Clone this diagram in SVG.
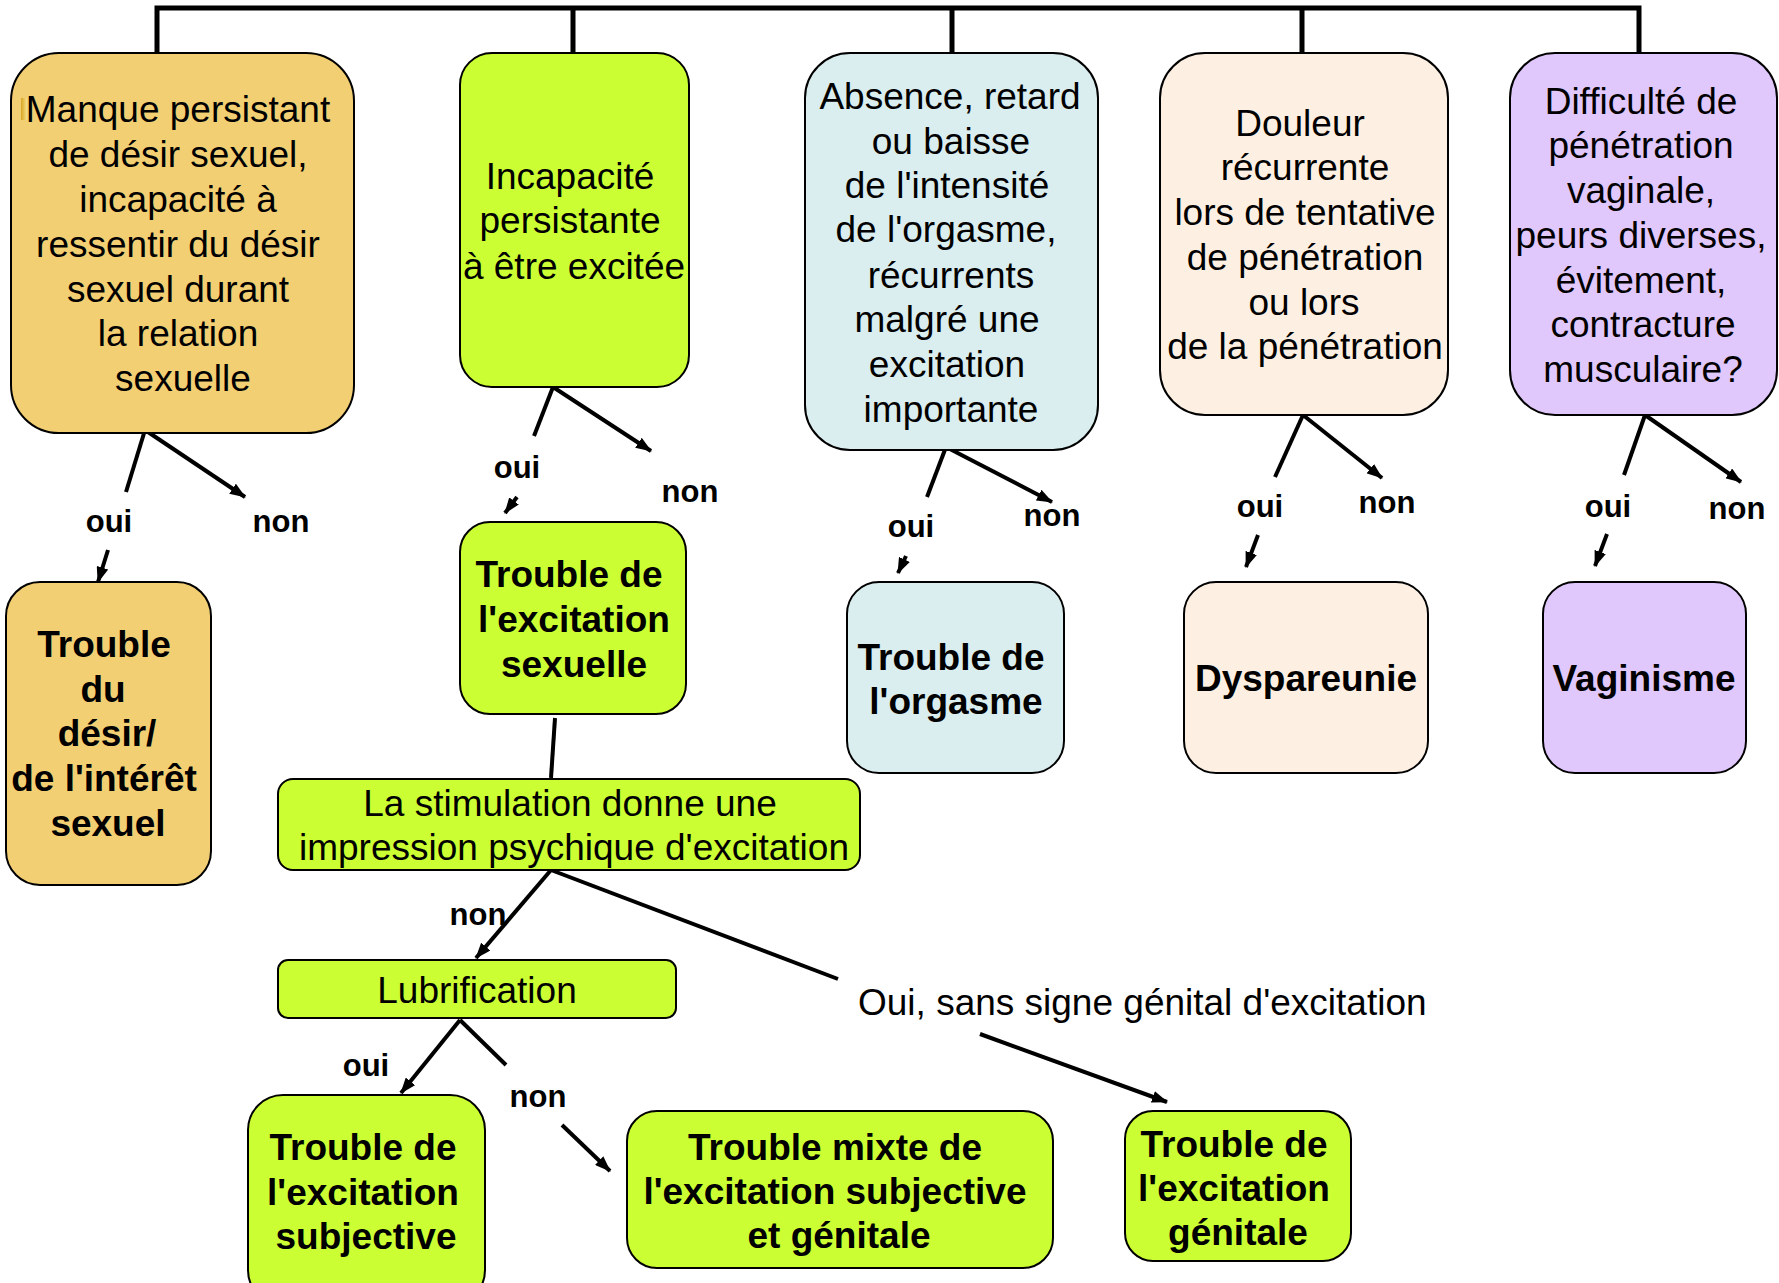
<svg xmlns="http://www.w3.org/2000/svg" width="1779" height="1283" viewBox="0 0 1779 1283">
<style>
.box{stroke:#000;stroke-width:2}
.or{fill:#F3CF73}.gr{fill:#CCFF33}.bl{fill:#DAEDEF}.pe{fill:#FDF0E3}.lv{fill:#E0C7FC}
.t{font-family:"Liberation Sans",Arial,sans-serif;font-size:37px;fill:#000;text-anchor:middle}
.b{font-family:"Liberation Sans",Arial,sans-serif;font-size:37px;font-weight:bold;fill:#000;text-anchor:middle}
.l{font-family:"Liberation Sans",Arial,sans-serif;font-size:31px;font-weight:bold;fill:#000;text-anchor:middle}
.c{stroke:#000;stroke-width:4;fill:none}
.a{stroke:#000;stroke-width:4;fill:none;marker-end:url(#ah)}
</style>
<defs>
<marker id="ah" viewBox="0 0 16 12" refX="15" refY="6" markerWidth="16" markerHeight="12" markerUnits="userSpaceOnUse" orient="auto"><path d="M0,0 L16,6 L0,12 z" fill="#000"/></marker>
<linearGradient id="gold" x1="0" y1="0" x2="1" y2="0"><stop offset="0" stop-color="#D9A521"/><stop offset="1" stop-color="#F7E08A"/></linearGradient>
</defs>

<g id="connectors">
<path class="c" d="M157,55 V8 H1639 V55" style="stroke-width:5"/>
<path class="c" d="M573,8 V55 M952,8 V55 M1302,8 V55" style="stroke-width:5"/>
<path class="c" d="M145,430 L126,492"/>
<path class="a" d="M145,430 L245,497"/>
<path class="a" d="M108,550 L98,582"/>
<path class="c" d="M553,387 L534,436"/>
<path class="a" d="M553,387 L651,451"/>
<path class="a" d="M517,497 L505,513"/>
<path class="c" d="M946,447 L927,497"/>
<path class="a" d="M946,447 L1052,502"/>
<path class="a" d="M906,556 L898,573"/>
<path class="c" d="M1303,415 L1275,477"/>
<path class="a" d="M1303,415 L1382,478"/>
<path class="a" d="M1258,535 L1246,567"/>
<path class="c" d="M1645,415 L1624,475"/>
<path class="a" d="M1645,415 L1741,482"/>
<path class="a" d="M1607,534 L1595,566"/>
<path class="c" d="M555,718 L551,778"/>
<path class="a" d="M551,870 L476,958"/>
<path class="c" d="M551,870 L838,979"/>
<path class="a" d="M980,1034 L1167,1102"/>
<path class="a" d="M460,1020 L401,1093"/>
<path class="c" d="M460,1020 L506,1065"/>
<path class="a" d="M562,1125 L610,1171"/>
</g>

<g id="n1">
<rect class="box or" x="11" y="53" width="343" height="380" rx="48"/>
<rect x="21" y="98" width="6" height="22" fill="url(#gold)"/>
<text class="t" x="178" y="122">Manque persistant</text>
<text class="t" x="178" y="167">de désir sexuel,</text>
<text class="t" x="178" y="212">incapacité à</text>
<text class="t" x="178" y="257">ressentir du désir</text>
<text class="t" x="178" y="302">sexuel durant</text>
<text class="t" x="178" y="346">la relation</text>
<text class="t" x="183" y="391">sexuelle</text>
</g>

<g id="n2">
<rect class="box gr" x="460" y="53" width="229" height="334" rx="32"/>
<text class="t" x="570" y="189">Incapacité</text>
<text class="t" x="570" y="233">persistante</text>
<text class="t" x="574" y="279">à être excitée</text>
</g>

<g id="n3">
<rect class="box bl" x="805" y="53" width="293" height="397" rx="45"/>
<text class="t" x="950" y="109">Absence, retard</text>
<text class="t" x="951" y="154">ou baisse</text>
<text class="t" x="947" y="198">de l'intensité</text>
<text class="t" x="946" y="242">de l'orgasme,</text>
<text class="t" x="951" y="288">récurrents</text>
<text class="t" x="947" y="332">malgré une</text>
<text class="t" x="947" y="377">excitation</text>
<text class="t" x="951" y="422">importante</text>
</g>

<g id="n4">
<rect class="box pe" x="1160" y="53" width="288" height="362" rx="45"/>
<text class="t" x="1300" y="136">Douleur</text>
<text class="t" x="1305" y="180">récurrente</text>
<text class="t" x="1305" y="225">lors de tentative</text>
<text class="t" x="1305" y="270">de pénétration</text>
<text class="t" x="1304" y="315">ou lors</text>
<text class="t" x="1305" y="359">de la pénétration</text>
</g>

<g id="n5">
<rect class="box lv" x="1510" y="53" width="267" height="362" rx="45"/>
<text class="t" x="1641" y="114">Difficulté de</text>
<text class="t" x="1641" y="158">pénétration</text>
<text class="t" x="1641" y="203">vaginale,</text>
<text class="t" x="1641" y="248">peurs diverses,</text>
<text class="t" x="1641" y="293">évitement,</text>
<text class="t" x="1643" y="337">contracture</text>
<text class="t" x="1643" y="382">musculaire?</text>
</g>

<g id="labels">
<text class="l" x="109" y="532">oui</text>
<text class="l" x="281" y="532">non</text>
<text class="l" x="517" y="478">oui</text>
<text class="l" x="690" y="502">non</text>
<text class="l" x="911" y="537">oui</text>
<text class="l" x="1052" y="526">non</text>
<text class="l" x="1260" y="517">oui</text>
<text class="l" x="1387" y="513">non</text>
<text class="l" x="1608" y="517">oui</text>
<text class="l" x="1737" y="519">non</text>
<text class="l" x="478" y="925">non</text>
<text class="l" x="366" y="1076">oui</text>
<text class="l" x="538" y="1107">non</text>
<text class="t" x="858" y="1015" style="text-anchor:start">Oui, sans signe génital d'excitation</text>
</g>

<g id="n6">
<rect class="box or" x="6" y="582" width="205" height="303" rx="34"/>
<text class="b" x="104" y="657">Trouble</text>
<text class="b" x="103" y="702">du</text>
<text class="b" x="107" y="746">désir/</text>
<text class="b" x="104" y="791">de l'intérêt</text>
<text class="b" x="108" y="836">sexuel</text>
</g>

<g id="n7">
<rect class="box gr" x="460" y="522" width="226" height="192" rx="30"/>
<text class="b" x="569" y="587">Trouble de</text>
<text class="b" x="574" y="632">l'excitation</text>
<text class="b" x="574" y="677">sexuelle</text>
</g>

<g id="n8">
<rect class="box bl" x="847" y="582" width="217" height="191" rx="32"/>
<text class="b" x="951" y="670">Trouble de</text>
<text class="b" x="956" y="714">l'orgasme</text>
</g>

<g id="n9">
<rect class="box pe" x="1184" y="582" width="244" height="191" rx="32"/>
<text class="b" x="1306" y="691">Dyspareunie</text>
</g>

<g id="n10">
<rect class="box lv" x="1543" y="582" width="203" height="191" rx="32"/>
<text class="b" x="1644" y="691">Vaginisme</text>
</g>

<g id="n11">
<rect class="box gr" x="278" y="779" width="582" height="91" rx="15"/>
<text class="t" x="570" y="816">La stimulation donne une</text>
<text class="t" x="574" y="860">impression psychique d'excitation</text>
</g>

<g id="n12">
<rect class="box gr" x="278" y="960" width="398" height="58" rx="10"/>
<text class="t" x="477" y="1003">Lubrification</text>
</g>

<g id="n13">
<rect class="box gr" x="248" y="1095" width="237" height="210" rx="35"/>
<text class="b" x="363" y="1160">Trouble de</text>
<text class="b" x="363" y="1205">l'excitation</text>
<text class="b" x="366" y="1249">subjective</text>
</g>

<g id="n14">
<rect class="box gr" x="627" y="1111" width="426" height="157" rx="30"/>
<text class="b" x="835" y="1160">Trouble mixte de</text>
<text class="b" x="835" y="1204">l'excitation subjective</text>
<text class="b" x="839" y="1248">et génitale</text>
</g>

<g id="n15">
<rect class="box gr" x="1125" y="1111" width="226" height="150" rx="28"/>
<text class="b" x="1234" y="1157">Trouble de</text>
<text class="b" x="1234" y="1201">l'excitation</text>
<text class="b" x="1238" y="1245">génitale</text>
</g>
</svg>
